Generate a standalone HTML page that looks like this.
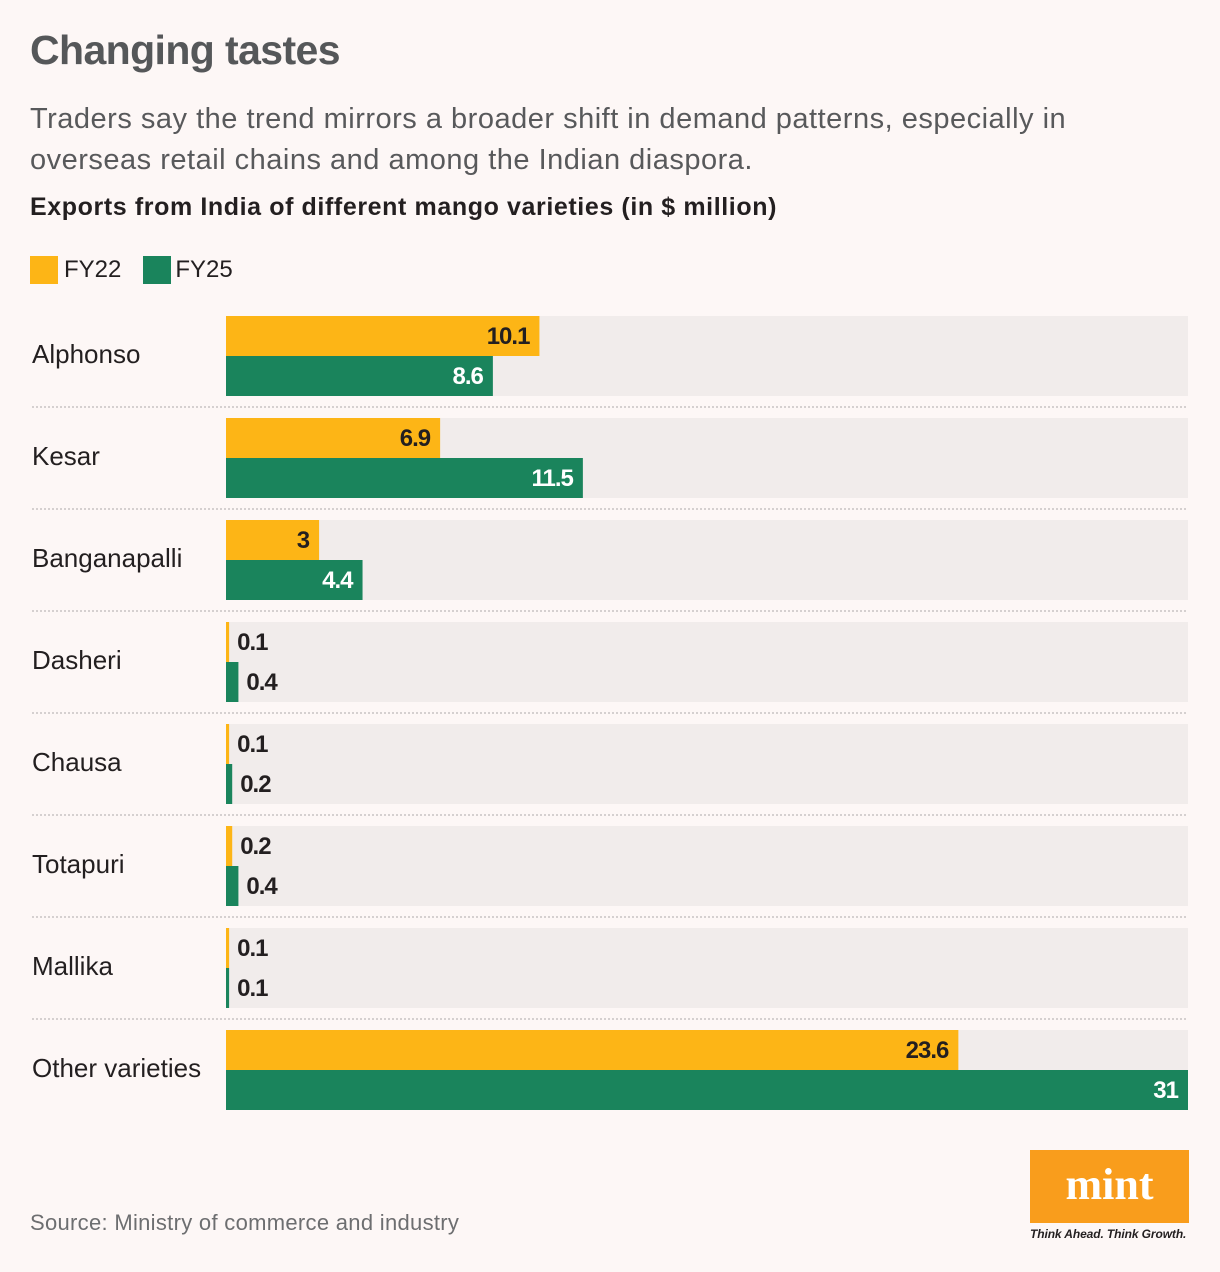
<!DOCTYPE html>
<html><head><meta charset="utf-8"><style>
body{margin:0;background:#fdf7f6;width:1220px;height:1272px;overflow:hidden;font-family:"Liberation Sans",sans-serif;position:relative}
.t{position:absolute;margin:0}
</style></head><body>
<h1 class="t" style="left:30px;top:27px;font-size:41px;font-weight:bold;color:#555759;letter-spacing:-0.6px">Changing tastes</h1>
<p class="t" style="left:30px;top:99px;font-size:29px;line-height:41px;color:#58595b;width:1150px;letter-spacing:0.5px">Traders say the trend mirrors a broader shift in demand patterns, especially in<br>overseas retail chains and among the Indian diaspora.</p>
<p class="t" style="left:30px;top:193px;font-size:25px;font-weight:bold;color:#231f20;letter-spacing:0.6px">Exports from India of different mango varieties (in $ million)</p>
<div style="position:absolute;left:30px;top:256px;font-size:24px;color:#231f20;display:flex;align-items:center">
 <span style="width:28px;height:28px;background:#fdb516;display:inline-block"></span><span style="margin:0 22px 0 6px">FY22</span>
 <span style="width:28px;height:28px;background:#1a845c;display:inline-block"></span><span style="margin-left:4px">FY25</span>
</div>
<svg id="chart" width="1220" height="1272" style="position:absolute;left:0;top:0"></svg>
<p class="t" style="left:30px;top:1210px;font-size:22px;color:#6d6e70;letter-spacing:0.3px">Source: Ministry of commerce and industry</p>
<div style="position:absolute;left:1030px;top:1150px;width:159px;height:73px;background:#f99d1c;color:#fff;font-family:'Liberation Serif',serif;font-weight:bold;font-size:44px;text-align:center;line-height:70px">mint</div>
<p class="t" style="left:1030px;top:1227px;font-size:12px;font-style:italic;font-weight:bold;color:#231f20;letter-spacing:-0.1px">Think Ahead. Think Growth.</p>
<script>
const categories=["Alphonso","Kesar","Banganapalli","Dasheri","Chausa","Totapuri","Mallika","Other varieties"];
const fy22=[10.1,6.9,3,0.1,0.1,0.2,0.1,23.6];
const fy25=[8.6,11.5,4.4,0.4,0.2,0.4,0.1,31];
const maxV=31;
const svg=document.getElementById('chart');
const NS='http://www.w3.org/2000/svg';
const x0=226,x1=1188,top0=316,pitch=102,bh=40;
const xs=v=>(x1-x0)*v/maxV;
function mk(tag,a){const e=document.createElementNS(NS,tag);for(const k in a)e.setAttribute(k,a[k]);svg.appendChild(e);return e;}
categories.forEach((c,i)=>{
 const y=top0+i*pitch;
 const bg=mk('rect',{x:x0,y:y,width:x1-x0,height:bh*2,fill:'#f1eceb'});
 
 
 const lab=mk('text',{x:32,y:y+bh+7,'font-size':26,fill:'#231f20'});
 lab.textContent=c;
 
 
 if(i<categories.length-1){
  const ln=mk('line',{x1:32,x2:x1,y1:y+91,y2:y+91,stroke:'#c8c4c4','stroke-width':1.5,'stroke-dasharray':'2,2'});
  
  
 }
 [[fy22[i],'#fdb516','#231f20','bar-fy22'],[fy25[i],'#1a845c','#fff','bar-fy25']].forEach((s,j)=>{
  const w=xs(s[0]),by=y+j*bh;
  const r=mk('rect',{x:x0,y:by,width:w,height:bh,fill:s[1]});
  
  
  const inside=w>70;
  const t=mk('text',{x:inside?x0+w-10:x0+w+8,y:by+28,'font-size':24,'font-weight':'bold','text-anchor':inside?'end':'start',fill:inside?s[2]:'#231f20','letter-spacing':-1});
  t.textContent=String(s[0]);
  
  
 });
});
</script>
</body></html>
